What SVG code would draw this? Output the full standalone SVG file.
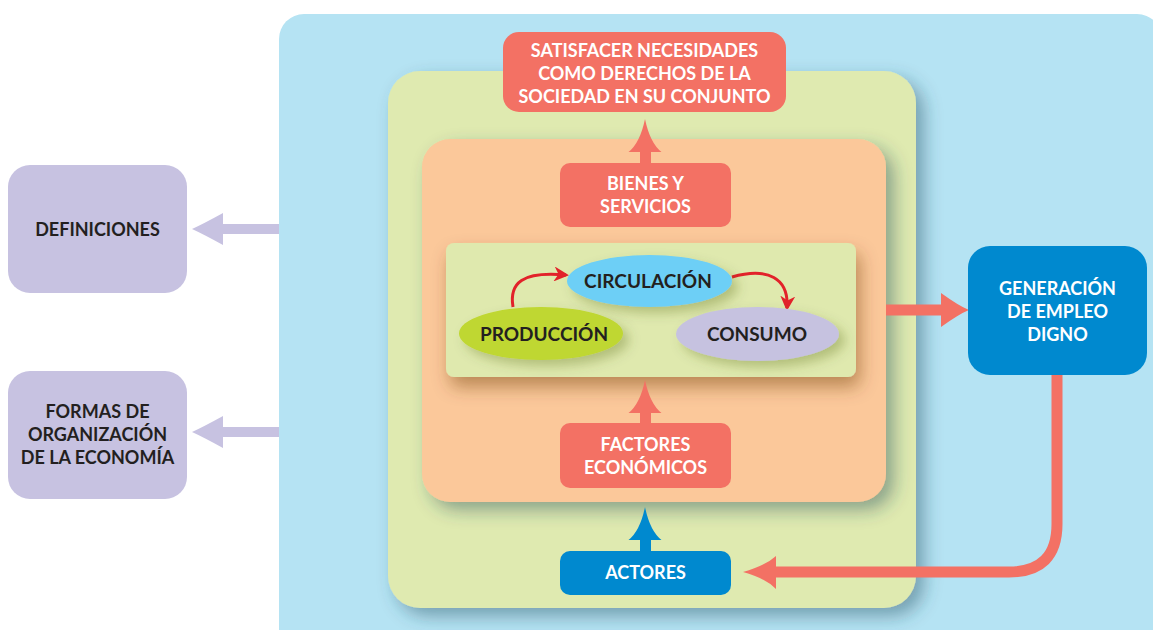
<svg xmlns="http://www.w3.org/2000/svg" width="1153" height="630" viewBox="0 0 1153 630">
<defs>
<style>
.t{font-family:Lato,"Open Sans","Liberation Sans",sans-serif;font-weight:bold;font-size:18px;text-anchor:middle}
.e{font-size:19px}
.w{fill:#ffffff}
.k{fill:#231F20}
.sal{fill:#F37164}
.blu{fill:#0089CF}
.lav{fill:#C7C2E1}
.red{fill:none;stroke:#E2222A;stroke-width:3}
</style>
<filter id="sh" x="-20%" y="-20%" width="150%" height="150%">
<feDropShadow dx="8" dy="8" stdDeviation="9" flood-color="#23495c" flood-opacity="0.45"/>
</filter>
<filter id="sh2" x="-20%" y="-20%" width="150%" height="160%">
<feDropShadow dx="4" dy="10" stdDeviation="9" flood-color="#6b3a10" flood-opacity="0.45"/>
</filter>
<filter id="sh3" x="-20%" y="-30%" width="150%" height="180%">
<feDropShadow dx="6" dy="6" stdDeviation="6" flood-color="#4a5a10" flood-opacity="0.3"/>
</filter>
<marker id="rh" viewBox="0 0 10 10" refX="8" refY="5" markerWidth="15" markerHeight="15" markerUnits="userSpaceOnUse" orient="auto">
<path d="M0,0 L10,5 L0,10 L3,5 Z" fill="#E2222A"/>
</marker>
</defs>

<rect x="279" y="14" width="883" height="640" rx="25" fill="#B5E3F3"/>
<rect x="388" y="71" width="528" height="537" rx="32" fill="#DFEAB0" filter="url(#sh)"/>
<rect x="422" y="139" width="464" height="363" rx="28" fill="#FBC89A" filter="url(#sh)"/>
<rect x="446" y="243" width="410" height="134" rx="8" fill="#DFE9AE" filter="url(#sh2)"/>

<g id="connectors">
<path class="sal" d="M645,119 Q650,143 661.5,152 L651,152 L651,163 L640,163 L640,152 L628.5,152 Q640,143 645,119 Z"/>
<path class="sal" d="M645,380 Q650,404 661.5,413 L651,413 L651,423 L640,423 L640,413 L628.5,413 Q640,404 645,380 Z"/>
<path class="blu" d="M645,507 Q650,531 661.5,540 L651,540 L651,551 L640,551 L640,540 L628.5,540 Q640,531 645,507 Z"/>
<path class="sal" d="M886,304.5 L941,304.5 L941,293 Q959,306 969,310 Q959,314 941,327 L941,315.5 L886,315.5 Z"/>
<path d="M1057,375 L1057,524 Q1057,572 1009,572 L774,572" fill="none" stroke="#F37164" stroke-width="11"/>
<path class="sal" d="M743,572 Q765,566 776,556 L776,589 Q765,578 743,572 Z"/>
<path class="lav" d="M279,224 L223,224 L223,213 Q203,224 192,229 Q203,234 223,245 L223,234 L279,234 Z"/>
<path class="lav" d="M279,427 L223,427 L223,416 Q203,427 192,432 Q203,437 223,448 L223,437 L279,437 Z"/>
<path class="red" d="M513,307 C509,283 522,271 566,275" marker-end="url(#rh)"/>
<path class="red" d="M732,277 C768,267 789,278 787,308" marker-end="url(#rh)"/>
</g>

<g id="satisfacer">
<rect class="sal" x="503" y="32" width="283" height="80" rx="16"/>
<text class="t w" x="644.5" y="57">SATISFACER NECESIDADES</text>
<text class="t w" x="644.5" y="80">COMO DERECHOS DE LA</text>
<text class="t w" x="644.5" y="103">SOCIEDAD EN SU CONJUNTO</text>
</g>
<g id="bienes">
<rect class="sal" x="560" y="163" width="171" height="64" rx="10"/>
<text class="t w" x="645.5" y="190">BIENES Y</text>
<text class="t w" x="645.5" y="213">SERVICIOS</text>
</g>
<g id="circulacion">
<ellipse cx="649.5" cy="281" rx="82.5" ry="26" fill="#6DCFF6" filter="url(#sh3)"/>
<text class="t e k" x="648" y="288">CIRCULACIÓN</text>
</g>
<g id="produccion">
<ellipse cx="541" cy="333.5" rx="82" ry="26.5" fill="#BFD730" filter="url(#sh3)"/>
<text class="t e k" x="544" y="341">PRODUCCIÓN</text>
</g>
<g id="consumo">
<ellipse cx="757.5" cy="334" rx="81.5" ry="27" fill="#C6C2E0" filter="url(#sh3)"/>
<text class="t e k" x="757" y="341">CONSUMO</text>
</g>
<g id="factores">
<rect class="sal" x="560" y="423" width="171" height="65" rx="10"/>
<text class="t w" x="645.5" y="451">FACTORES</text>
<text class="t w" x="645.5" y="474">ECONÓMICOS</text>
</g>
<g id="actores">
<rect class="blu" x="560" y="551" width="171" height="44" rx="10"/>
<text class="t w" x="645.5" y="579">ACTORES</text>
</g>
<g id="generacion">
<rect class="blu" x="968" y="246" width="179" height="129" rx="22"/>
<text class="t w" x="1057.5" y="295">GENERACIÓN</text>
<text class="t w" x="1057.5" y="318">DE EMPLEO</text>
<text class="t w" x="1057.5" y="341">DIGNO</text>
</g>
<g id="definiciones">
<rect class="lav" x="8" y="165" width="179" height="128" rx="22"/>
<text class="t k" x="97.5" y="236">DEFINICIONES</text>
</g>
<g id="formas">
<rect class="lav" x="8" y="371" width="179" height="128" rx="22"/>
<text class="t k" x="97.5" y="418">FORMAS DE</text>
<text class="t k" x="97.5" y="441">ORGANIZACIÓN</text>
<text class="t k" x="97.5" y="464">DE LA ECONOMÍA</text>
</g>
</svg>
